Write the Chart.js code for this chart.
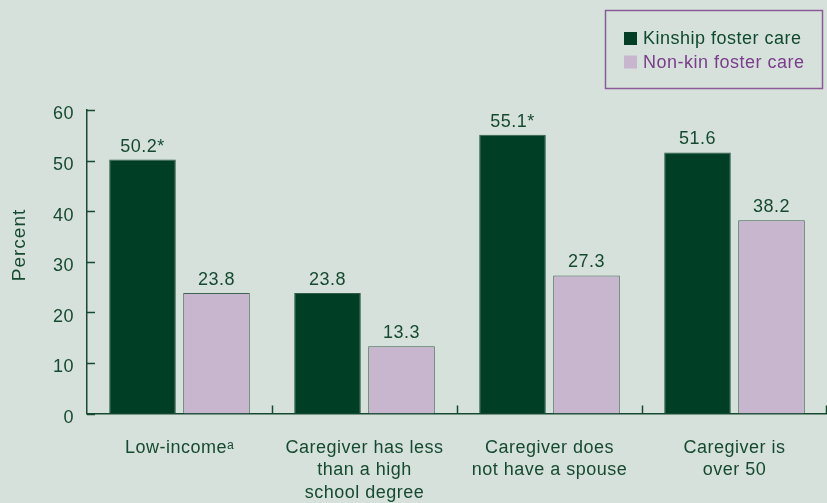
<!DOCTYPE html>
<html>
<head>
<meta charset="utf-8">
<script src="https://cdn.jsdelivr.net/npm/chart.js@4/dist/chart.umd.min.js"></script>
<style>
  html, body { margin: 0; padding: 0; background: #d6e1dc; }
  #wrap { width: 827px; height: 503px; }
</style>
</head>
<body>
<div id="wrap"><canvas id="myChart"></canvas></div>
<script>
'use strict'

/* global Chart */

const categories = [
  ['Low-incomeᵃ'],
  ['Caregiver has less', 'than a high', 'school degree'],
  ['Caregiver does', 'not have a spouse'],
  ['Caregiver is', 'over 50']
]
const kinship = [50.2, 23.8, 55.1, 51.6]
const nonKin = [23.8, 13.3, 27.3, 38.2]
const kinshipStar = [true, false, true, false]
const nonKinStar = [false, false, false, false]
const seriesNames = ['Kinship foster care', 'Non-kin foster care']
const yTitle = 'Percent'
const yMin = 0
const yMax = 60
const yStep = 10

const green = '#003f26'
const lavender = '#c8b6cf'
const textGreen = '#164a30'
const purple = '#7b3d8b'
const font = 'Liberation Sans, Arial, Helvetica, sans-serif'

const myChartCtx = document.querySelector('#myChart')

// the source type is a bit wider than Arial
const spacing = {
  id: 'spacing',
  beforeDraw (chart) {
    chart.ctx.letterSpacing = '0.5px'
  }
}

// numbers over the bars
const valueLabels = {
  id: 'valueLabels',
  afterDatasetsDraw (chart) {
    const ctx = chart.ctx
    ctx.save()
    ctx.font = '18px ' + font
    ctx.fillStyle = textGreen
    ctx.textAlign = 'center'
    ctx.textBaseline = 'alphabetic'
    chart.data.datasets.forEach((ds, i) => {
      const meta = chart.getDatasetMeta(i)
      meta.data.forEach((bar, j) => {
        const txt = ds.data[j].toFixed(1) + (ds.stars[j] ? '*' : '')
        ctx.fillText(txt, bar.x, bar.y - 8)
      })
    })
    ctx.restore()
  }
}

// inward tick marks on both axes, and the y title (sits a bit above centre)
const innerTicks = {
  id: 'innerTicks',
  afterDraw (chart) {
    const ctx = chart.ctx
    const x = chart.scales.x
    const y = chart.scales.y
    ctx.save()
    ctx.strokeStyle = textGreen
    ctx.lineWidth = 1.5
    ctx.beginPath()
    y.ticks.forEach((t) => {
      const py = Math.round(y.getPixelForValue(t.value)) + 0.5
      ctx.moveTo(x.left, py)
      ctx.lineTo(x.left + 8, py)
    })
    const half = (x.getPixelForValue(1) - x.getPixelForValue(0)) / 2
    for (let i = 1; i <= categories.length; i++) {
      const px = Math.min(Math.round(x.getPixelForValue(i - 1) + half), x.right - 1) + 0.5
      ctx.moveTo(px, y.bottom)
      ctx.lineTo(px, y.bottom - 8)
    }
    ctx.stroke()

    ctx.translate(20, 245)
    ctx.rotate(-Math.PI / 2)
    ctx.letterSpacing = '1px'
    ctx.font = '19px ' + font
    ctx.fillStyle = textGreen
    ctx.textAlign = 'center'
    ctx.textBaseline = 'middle'
    ctx.fillText(yTitle, 0, 0)
    ctx.restore()
  }
}

// boxed legend in the top right corner
const boxLegend = {
  id: 'boxLegend',
  afterDraw (chart) {
    const ctx = chart.ctx
    ctx.save()
    ctx.strokeStyle = '#8a5c96'
    ctx.lineWidth = 1.5
    ctx.strokeRect(605.5, 10.5, 217, 78)
    ctx.font = '18px ' + font
    ctx.textBaseline = 'middle'
    ctx.textAlign = 'left'
    chart.data.datasets.forEach((ds, i) => {
      const cy = 38.5 + i * 23.5
      ctx.fillStyle = ds.backgroundColor
      ctx.fillRect(624, cy - 6.5, 13, 13)
      ctx.fillStyle = ds.legendColor
      ctx.fillText(ds.label, 643, cy + 1)
    })
    ctx.restore()
  }
}

const myChart = new Chart(myChartCtx, {
  type: 'bar',
  data: {
    labels: categories,
    datasets: [{
      label: seriesNames[0],
      data: kinship,
      stars: kinshipStar,
      backgroundColor: green,
      borderColor: '#2e5e47',
      borderWidth: 1,
      legendColor: '#0f4a2e'
    }, {
      label: seriesNames[1],
      data: nonKin,
      stars: nonKinStar,
      backgroundColor: lavender,
      borderColor: '#3d6652',
      borderWidth: 1,
      legendColor: purple
    }]
  },
  plugins: [spacing, valueLabels, innerTicks, boxLegend],
  options: {
    responsive: true,
    maintainAspectRatio: false,
    animation: { duration: 0 },
    layout: { padding: { top: 110, right: 0, left: 40, bottom: 0 } },
    plugins: {
      legend: { display: false },
      tooltip: { enabled: false }
    },
    datasets: {
      bar: { categoryPercentage: 0.8, barPercentage: 0.9 }
    },
    scales: {
      x: {
        grid: { display: false, drawTicks: false },
        border: { display: true, color: textGreen, width: 1.5 },
        ticks: {
          color: textGreen,
          font: { family: font, size: 18, lineHeight: 1.25 },
          padding: 23,
          maxRotation: 0,
          autoSkip: false
        },
        afterFit (scale) { scale.height = 89.5 }
      },
      y: {
        min: yMin,
        max: yMax,
        grid: { display: false, drawTicks: false },
        border: { display: true, color: textGreen, width: 1.5 },
        ticks: {
          stepSize: yStep,
          color: textGreen,
          font: { family: font, size: 18 },
          padding: 13,
          labelOffset: 4.5
        },
        afterFit (scale) { scale.width = 47 }
      }
    }
  }
})
</script>
</body>
</html>
